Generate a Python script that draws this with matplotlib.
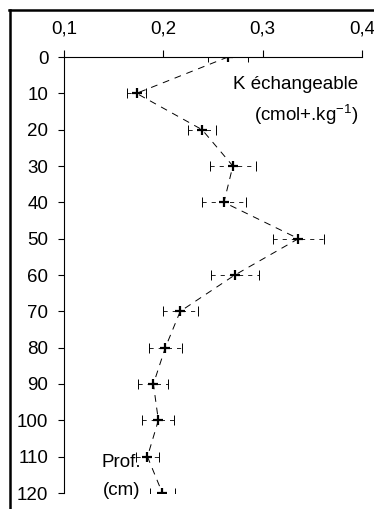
import matplotlib
matplotlib.use("Agg")
import matplotlib.pyplot as plt
from matplotlib.lines import Line2D

plt.rcParams['font.family'] = ['Liberation Sans', 'DejaVu Sans']

# Soil depth (cm) and exchangeable K (cmol+/kg) with its spread
depth = [0, 10, 20, 30, 40, 50, 60, 70, 80, 90, 100, 110, 120]
k_exch = [0.265, 0.173, 0.239, 0.270, 0.261, 0.336, 0.272, 0.217, 0.202, 0.190, 0.195, 0.184, 0.199]
k_err = [0.020, 0.010, 0.014, 0.023, 0.022, 0.026, 0.024, 0.0175, 0.0165, 0.015, 0.016, 0.012, 0.0125]

x_ticks = [0.1, 0.2, 0.3, 0.4]
x_tick_labels = ["0,1", "0,2", "0,3", "0,4"]
y_ticks = [0, 10, 20, 30, 40, 50, 60, 70, 80, 90, 100, 110, 120]

FS = 13.5

fig = plt.figure(figsize=(3.74, 5.09), dpi=100)
ax = fig.add_axes([64 / 374, 1 - 493 / 509, (362 - 64) / 374, (493 - 57) / 509])

eb = ax.errorbar(k_exch, depth, xerr=k_err, fmt='none', ecolor='black',
                 elinewidth=0.6, capsize=3.5, capthick=0.7)
for coll in eb[2]:
    coll.set_linestyle((0, (5, 6)))

ax.plot(k_exch, depth, linestyle=(0, (7, 6)), color='black', linewidth=0.7)
ax.plot(k_exch, depth, linestyle='none', marker='+', markersize=7.5,
        markeredgewidth=1.6, color='black')

ax.set_xlim(0.1, 0.4)
ax.set_ylim(120, 0)
ax.xaxis.tick_top()
ax.set_xticks(x_ticks)
ax.set_xticklabels(x_tick_labels)
ax.set_yticks(y_ticks)
ax.tick_params(axis='x', direction='out', length=5, width=0.8, pad=9, labelsize=FS)
ax.tick_params(axis='y', direction='out', length=4.3, width=0.8, pad=7, labelsize=FS)

for side in ('right', 'bottom'):
    ax.spines[side].set_visible(False)
for side in ('left', 'top'):
    ax.spines[side].set_linewidth(0.8)
ax.patch.set_alpha(0)

ax.text(0.333, 7.7, "K échangeable", ha='center', va='center', fontsize=FS)
ax.text(0.344, 15.8, "(cmol+.kg$^{\\mathregular{-1}}$)", ha='center', va='center', fontsize=FS)
ax.text(0.158, 111.5, "Prof.", ha='center', va='center', fontsize=FS)
ax.text(0.158, 119.3, "(cm)", ha='center', va='center', fontsize=FS)

# Outer frame: left and top borders of the figure
fig.add_artist(Line2D([10 / 374, 10 / 374], [0, 1 - 9.5 / 509], transform=fig.transFigure,
                      color='black', linewidth=1.8))
fig.add_artist(Line2D([9 / 374, 1], [1 - 9.5 / 509, 1 - 9.5 / 509], transform=fig.transFigure,
                      color='black', linewidth=1.8))

fig.savefig("out.png", dpi=100)
